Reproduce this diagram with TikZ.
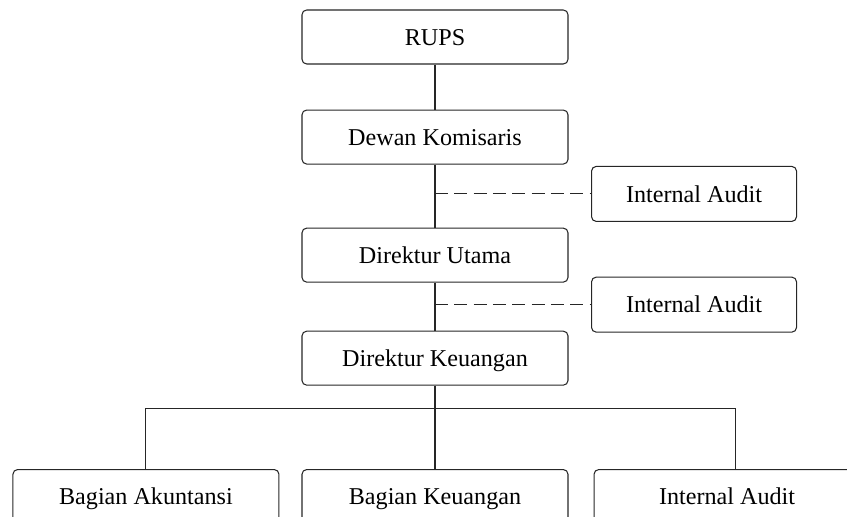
\documentclass[tikz,border=0pt]{standalone}
\usepackage{fontspec}
\setmainfont{Liberation Serif}
\usetikzlibrary{positioning}

\begin{document}
\begin{tikzpicture}[
    node distance=1cm,
    unit/.style={rectangle, draw=black!85, line width=0.9pt, rounded corners=4pt, align=center, font=\fontsize{20.6}{24}\selectfont, text height=14pt, text depth=0pt, minimum width=7.98cm, minimum height=1.62cm},
    audit/.style={unit, minimum width=6.15cm, minimum height=1.65cm},
    link/.style={draw=black!85, line width=0.9pt},
    staff/.style={link, dash pattern=on 11pt off 5.5pt}
]
    \useasboundingbox (-13.05,1.11) rectangle (12.36,-14.4);
    \clip (-13.05,1.11) rectangle (12.36,-14.4);

    % Main line of command
    \node[unit] (rups) at (0,0) {RUPS};
    \node[unit, below=1.35cm of rups] (dekom) {Dewan Komisaris};
    \node[unit, below=1.89cm of dekom] (dirut) {Direktur Utama};
    \node[unit, below=1.44cm of dirut] (dirkeu) {Direktur Keuangan};

    % Internal audit beside the line
    \coordinate (j1) at ([yshift=-0.88cm]dekom.south);
    \coordinate (j2) at ([yshift=-0.66cm]dirut.south);
    \node[audit, right=4.68cm of j1, anchor=west] (audit1) {Internal Audit};
    \node[audit, right=4.68cm of j2, anchor=west] (audit2) {Internal Audit};

    % Bottom row
    \node[unit, below=2.5cm of dirkeu] (keu) {Bagian Keuangan};
    \node[unit, left=0.66cm of keu] (akun) {Bagian Akuntansi};
    \node[unit, right=0.75cm of keu] (audit3) {Internal Audit};
    \coordinate (bar) at ([yshift=-0.69cm]dirkeu.south);

    % Lines
    \draw[link] (rups) -- (dekom);
    \draw[link] (dekom) -- (dirut);
    \draw[link] (dirut) -- (dirkeu);
    \draw[link] (dirkeu) -- (keu);
    \draw[staff] (j1) -- (audit1.west);
    \draw[staff] (j2) -- (audit2.west);
    \draw[link] (akun.north) |- (bar) -| ([xshift=0.24cm]audit3.north);
\end{tikzpicture}
\end{document}
